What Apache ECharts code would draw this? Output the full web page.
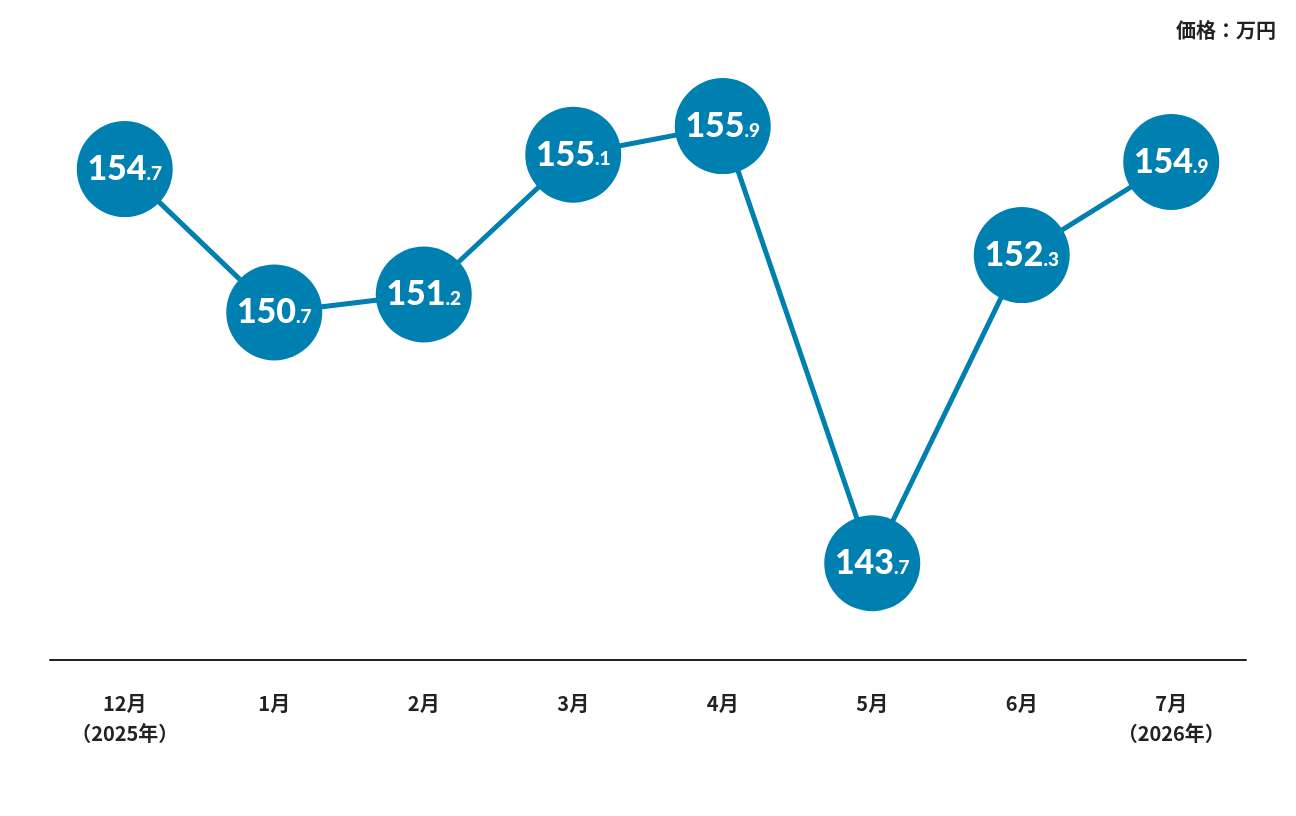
<!DOCTYPE html>
<html>
<head>
<meta charset="utf-8">
<script src="https://cdn.jsdelivr.net/npm/echarts@6/dist/echarts.min.js"></script>
<style>
  html, body { margin: 0; padding: 0; background: #fff; }
  #chart { width: 1296px; height: 816px; }
</style>
</head>
<body>
<div id="chart"></div>
<script>
// 月ラベルと価格（万円）
const months = ['12月\n（2025年）', '1月', '2月', '3月', '4月', '5月', '6月', '7月\n（2026年）'];
const prices = [154.7, 150.7, 151.2, 155.1, 155.9, 143.7, 152.3, 154.9];
const unitLabel = '価格：万円';

const blue = '#007FB1';
const cjk = '"Noto Sans CJK JP", "Noto Sans", sans-serif';

let myChart = echarts.init(document.getElementById('chart'));

let option = {
    animation: false,
    graphic: [{
        type: 'text',
        right: 20,
        top: 20,
        style: {
            text: unitLabel,
            font: 'bold 20px ' + cjk,
            fill: '#222'
        }
    }],
    grid: {
        left: 50,
        right: 50,
        top: 15,
        bottom: 156
    },
    xAxis: {
        type: 'category',
        data: months,
        boundaryGap: true,
        axisLine: {lineStyle: {color: '#222', width: 2}},
        axisTick: {show: false},
        axisLabel: {
            color: '#222',
            fontFamily: cjk,
            fontWeight: 'bold',
            fontSize: 20,
            lineHeight: 30,
            margin: 28,
            verticalAlign: 'top'
        }
    },
    yAxis: {
        type: 'value',
        min: 141,
        max: 159,
        show: false
    },
    series: [{
        type: 'line',
        data: prices,
        symbol: 'circle',
        symbolSize: 96,
        lineStyle: {color: blue, width: 5},
        itemStyle: {color: blue},
        label: {
            show: true,
            position: 'inside',
            formatter: function (p) {
                let parts = p.value.toFixed(1).split('.');
                return '{a|' + parts[0] + '}{b|.' + parts[1] + '}';
            },
            rich: {
                a: {
                    color: '#fff',
                    fontFamily: 'Lato, "Noto Sans", sans-serif',
                    fontWeight: 900,
                    fontSize: 34
                },
                b: {
                    color: '#fff',
                    fontFamily: 'Lato, "Noto Sans", sans-serif',
                    fontWeight: 900,
                    fontSize: 19,
                    padding: [9, 0, 0, 0]
                }
            }
        }
    }]
};

myChart.setOption(option);
</script>
</body>
</html>
